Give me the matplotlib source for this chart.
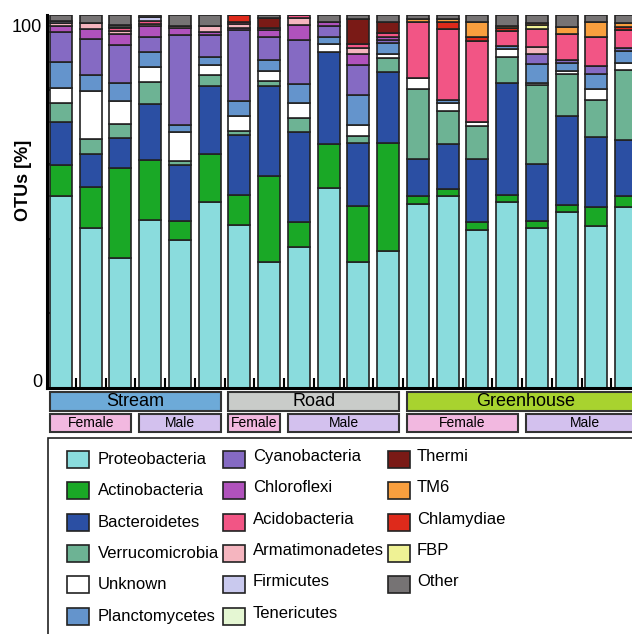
import matplotlib
matplotlib.use('Agg')
import matplotlib.pyplot as plt
from matplotlib.patches import Rectangle
import numpy as np

plt.rcParams['font.family'] = ['Liberation Sans', 'DejaVu Sans']

# stacking order, bottom to top
phyla = ['Proteobacteria', 'Actinobacteria', 'Bacteroidetes', 'Verrucomicrobia', 'Unknown',
         'Planctomycetes', 'Cyanobacteria', 'Chloroflexi', 'Armatimonadetes', 'Acidobacteria',
         'Firmicutes', 'Tenericutes', 'Thermi', 'Chlamydiae', 'FBP', 'TM6', 'Other']

colors = {
    'Proteobacteria': '#8ADCDD', 'Actinobacteria': '#1AA826', 'Bacteroidetes': '#2B4FA3',
    'Verrucomicrobia': '#6DB394', 'Unknown': '#FFFFFF', 'Planctomycetes': '#6494CC',
    'Cyanobacteria': '#856AC3', 'Chloroflexi': '#B052BC', 'Acidobacteria': '#F25585',
    'Armatimonadetes': '#F5B5BF', 'Firmicutes': '#C9C9EE', 'Tenericutes': '#E5F7D3',
    'Thermi': '#7A1A16', 'TM6': '#F99F3E', 'Chlamydiae': '#DE2A1B', 'FBP': '#EFF295',
    'Other': '#767374',
}

# legend order (column-wise)
legend_order = ['Proteobacteria', 'Actinobacteria', 'Bacteroidetes', 'Verrucomicrobia', 'Unknown',
                'Planctomycetes', 'Cyanobacteria', 'Chloroflexi', 'Acidobacteria', 'Armatimonadetes',
                'Firmicutes', 'Tenericutes', 'Thermi', 'TM6', 'Chlamydiae', 'FBP', 'Other']

# 20 samples: Stream 1-6, Road 7-12, Greenhouse 13-20 (values in %)
proteobacteria  = [51.5, 42.6, 34.6, 44.6, 39.5, 49.5, 43.5, 33.6, 37.6, 53.5, 33.6, 36.7, 49.5, 51.5, 42.4, 49.5, 42.4, 47.3, 43.5, 48.4]
actinobacteria  = [8.1, 10.9, 23.9, 15.9, 5.1, 12.9, 8.0, 22.9, 6.8, 11.9, 15.0, 28.7, 2.0, 1.9, 2.1, 2.0, 2.1, 2.1, 5.1, 3.1]
bacteroidetes   = [11.6, 8.9, 8.0, 14.9, 15.0, 17.9, 15.9, 23.9, 23.9, 24.7, 16.8, 19.0, 9.9, 11.9, 17.0, 29.8, 14.9, 23.9, 18.8, 14.8]
verrucomicrobia = [5.1, 4.0, 3.8, 5.8, 0.9, 2.9, 1.1, 1.2, 3.9, 0.0, 2.0, 3.9, 19.0, 8.9, 8.9, 7.0, 21.0, 11.2, 10.0, 18.8]
unknown         = [4.0, 12.8, 6.0, 4.0, 7.9, 2.8, 3.9, 2.9, 4.0, 2.0, 2.9, 0.9, 2.9, 2.0, 0.9, 2.0, 0.7, 0.9, 2.9, 2.0]
planctomycetes  = [7.0, 4.0, 4.9, 4.0, 1.9, 2.0, 4.0, 2.9, 4.9, 2.0, 8.0, 2.9, 0.0, 0.9, 0.0, 0.9, 4.9, 2.1, 4.0, 3.1]
cyanobacteria   = [8.0, 9.8, 10.1, 3.8, 23.9, 6.0, 18.8, 6.0, 11.9, 2.9, 8.0, 0.9, 0.0, 0.0, 0.0, 0.0, 2.8, 0.9, 2.0, 0.9]
chloroflexi     = [1.7, 2.7, 2.8, 2.9, 1.8, 0.7, 0.7, 1.8, 3.8, 0.9, 2.9, 0.9, 0, 0, 0, 0, 0, 0, 0, 0]
armatimonadetes = [0.8, 1.6, 0.8, 0.7, 0.7, 1.7, 0.9, 0.0, 2.0, 0.0, 1.8, 0.0, 0, 0, 0, 0, 1.8, 0, 0, 0]
acidobacteria   = [0.0, 0.0, 0.8, 0.8, 0.0, 0.0, 0.7, 0.6, 0.8, 0.0, 0.9, 0.9, 14.9, 19.0, 21.7, 4.0, 4.9, 7.1, 8.0, 4.8]
firmicutes      = [0.4, 0, 0.4, 0.9, 0, 0, 0, 0, 0, 0, 0, 0, 0, 0, 0, 0, 0, 0, 0, 0]
tenericutes     = [0, 0, 0.5, 0, 0, 0, 0, 0, 0, 0, 0, 0, 0, 0, 0, 0, 0, 0, 0, 0]
thermi          = [0, 0, 0, 0, 0, 0, 0, 2.7, 0, 0, 6.7, 2.9, 0, 0, 0, 0, 0, 0, 0, 0]
chlamydiae      = [0, 0, 0, 0, 0, 0, 1.8, 0, 0, 0, 0, 0, 0, 1.8, 1.1, 0.9, 0, 0, 0, 0.9]
fbp             = [0, 0, 0, 0, 0, 0, 0, 0, 0, 0, 0, 0, 0, 0, 0, 0, 0.9, 0, 0, 0]
tm6             = [0, 0, 0, 0, 0, 0, 0, 0, 0, 0, 0, 0, 0.9, 0.9, 4.0, 0.5, 0.7, 1.9, 3.8, 0.9]
other           = [1.7, 2.0, 2.6, 0.6, 2.9, 2.9, 0.0, 0.8, 0.0, 2.0, 1.1, 2.0, 1.1, 1.1, 2.0, 2.9, 2.0, 3.1, 2.0, 2.2]

series = {
    'Proteobacteria': proteobacteria, 'Actinobacteria': actinobacteria, 'Bacteroidetes': bacteroidetes,
    'Verrucomicrobia': verrucomicrobia, 'Unknown': unknown, 'Planctomycetes': planctomycetes,
    'Cyanobacteria': cyanobacteria, 'Chloroflexi': chloroflexi, 'Armatimonadetes': armatimonadetes,
    'Acidobacteria': acidobacteria, 'Firmicutes': firmicutes, 'Tenericutes': tenericutes,
    'Thermi': thermi, 'Chlamydiae': chlamydiae, 'FBP': fbp, 'TM6': tm6, 'Other': other,
}

groups = ['Stream', 'Road', 'Greenhouse']
group_sizes = [6, 6, 8]
group_colors = ['#6DAAD8', '#C9CCC9', '#A8D32F']
sex_labels = ['Female', 'Male', 'Female', 'Male', 'Female', 'Male']
sex_sizes = [3, 3, 2, 4, 4, 4]
sex_colors = {'Female': '#F2B8E0', 'Male': '#D3C1EE'}

W, H = 632, 634
fig = plt.figure(figsize=(W / 100, H / 100), dpi=100)


def fx(px):
    return px / W


def fy(py):
    return 1 - py / H


ax = fig.add_axes([fx(47), fy(388), fx(644) - fx(47), fy(15) - fy(388)])

data = np.array([series[p] for p in phyla], dtype=float)
data = data / data.sum(axis=0) * 100
x = np.arange(data.shape[1])
bottom = np.zeros(len(x))
for p, vals in zip(phyla, data):
    ax.bar(x, vals, bottom=bottom, width=0.74, color=colors[p],
           edgecolor='#222222', linewidth=1.2, zorder=2)
    bottom += vals

ax.set_xlim(-0.47, 19.6)
ax.set_ylim(0, 100)
for s in ['top', 'right']:
    ax.spines[s].set_visible(False)
ax.spines['left'].set_linewidth(2.2)
ax.spines['bottom'].set_linewidth(2.2)
ax.set_xticks(x[:-1] + 0.5)
ax.set_xticklabels([])
ax.tick_params(axis='x', direction='in', length=7, width=1.5)
ax.set_yticks([20, 40, 60, 80])
ax.set_yticklabels([])
ax.tick_params(axis='y', direction='in', length=3, width=1.5)

ax.text(-0.64, 96.6, '100', ha='right', va='center', fontsize=13, transform=ax.transData)
ax.text(-0.64, 1.6, '0', ha='right', va='center', fontsize=13, transform=ax.transData)
fig.text(fx(24), fy(180), 'OTUs [%]', rotation=90, fontweight='bold', fontsize=13,
         ha='center', va='center')

# group and sex boxes under the axis
tr = ax.get_xaxis_transform()


def ay(py):
    return (388 - py) / 373


n_bars = len(x)
start = 0
for g, n, c in zip(groups, group_sizes, group_colors):
    x0, x1 = start - 0.37, start + n - 1 + 0.37
    if start + n == n_bars:
        x1 = 19.6
    ax.add_patch(Rectangle((x0, ay(411)), x1 - x0, ay(392) - ay(411), transform=tr,
                           facecolor=c, edgecolor='#333333', linewidth=1.5, clip_on=False))
    ax.text((x0 + x1) / 2, ay(401.5), g, transform=tr, ha='center', va='center', fontsize=13)
    start += n

start = 0
for lab, n in zip(sex_labels, sex_sizes):
    x0, x1 = start - 0.37, start + n - 1 + 0.37
    if start + n == n_bars:
        x1 = 19.6
    ax.add_patch(Rectangle((x0, ay(432)), x1 - x0, ay(414) - ay(432), transform=tr,
                           facecolor=sex_colors[lab], edgecolor='#333333', linewidth=1.5,
                           clip_on=False))
    ax.text((x0 + x1) / 2, ay(423), lab, transform=tr, ha='center', va='center', fontsize=10)
    start += n

# legend
fig.add_artist(Rectangle((fx(48), fy(700)), fx(700) - fx(48), fy(438) - fy(700),
                         transform=fig.transFigure, facecolor='white', edgecolor='#222222',
                         linewidth=1.2))
col_handle_x = [67, 223, 388]
col_text_x = [98, 253, 417]
col_dy = [0, -3, -3]
rows_per_col = [6, 6, 5]
k = 0
for ci, nrows in enumerate(rows_per_col):
    for r in range(nrows):
        name = legend_order[k]
        k += 1
        cy = 459.5 + 31.3 * r
        fig.add_artist(Rectangle((fx(col_handle_x[ci]), fy(cy + 8.5)), fx(22), 17 / H,
                                 transform=fig.transFigure, facecolor=colors[name],
                                 edgecolor='#222222', linewidth=1.2))
        fig.text(fx(col_text_x[ci]), fy(cy + col_dy[ci]), name, ha='left', va='center',
                 fontsize=12)

fig.savefig('out.png', dpi=100)
